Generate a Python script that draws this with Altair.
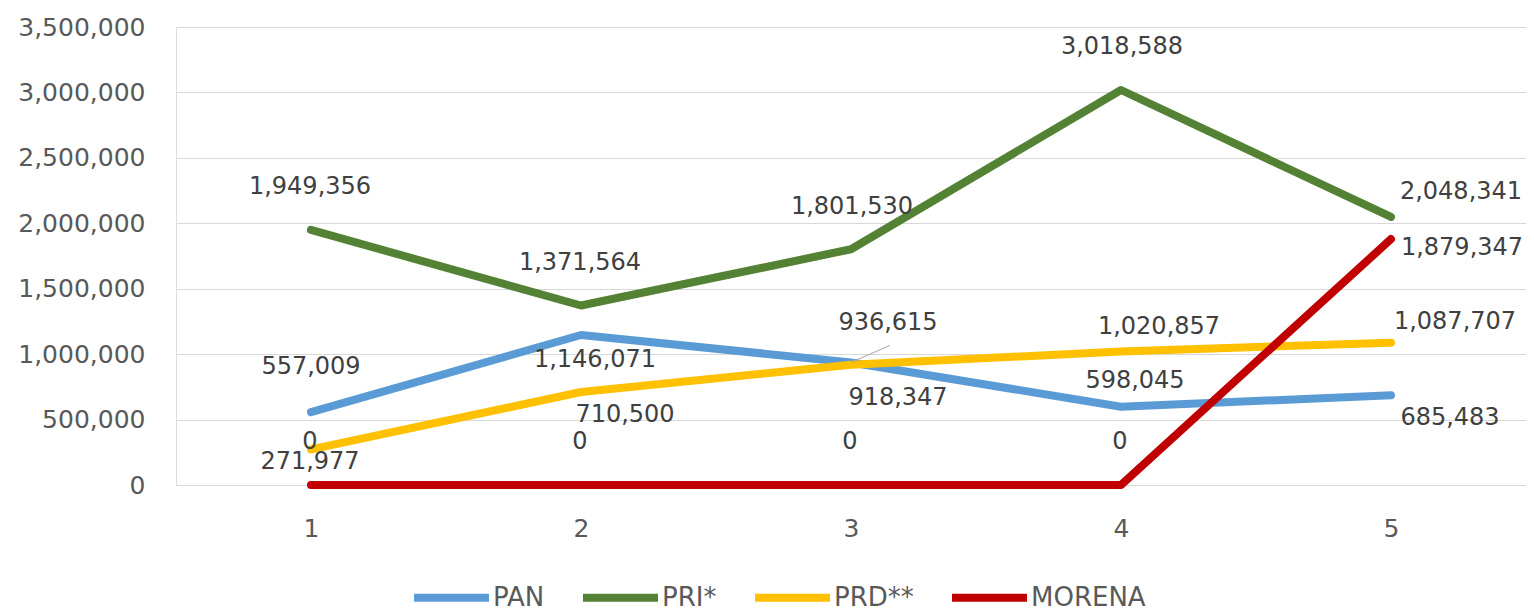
import altair as alt
import pandas as pd

# ---- data ----
categories = [1, 2, 3, 4, 5]
parties = ["PAN", "PRI*", "PRD**", "MORENA"]
pan = [557009, 1146071, 936615, 598045, 685483]
pri = [1949356, 1371564, 1801530, 3018588, 2048341]
prd = [271977, 710500, 918347, 1020857, 1087707]
morena = [0, 0, 0, 0, 1879347]
y_ticks = [0, 500000, 1000000, 1500000, 2000000, 2500000, 3000000, 3500000]

# ---- styling (label placement in pixels relative to each point) ----
colors = ["#5B9BD5", "#548235", "#FFC000", "#C00000"]
label_dx = {
    "PAN": [0, 14, 37, 14, 59],
    "PRI*": [-1, -1, 1, 1, 70],
    "PRD**": [-1, 44, 47, 38, 64],
    "MORENA": [-1, -1, -1, -1, 71],
}
label_dy = {
    "PAN": [-45, 25, -39, -26, 23],
    "PRI*": [-43, -43, -42, -43, -25],
    "PRD**": [13, 23, 33, -24, -21],
    "MORENA": [-43, -43, -43, -43, 9],
}

series = {"PAN": pan, "PRI*": pri, "PRD**": prd, "MORENA": morena}
rows = []
for p in parties:
    for i, c in enumerate(categories):
        rows.append({"x": c, "party": p, "value": series[p][i],
                     "ldx": label_dx[p][i], "ldy": label_dy[p][i]})
df = pd.DataFrame(rows)

FONT = "DejaVu Sans"
xscale = alt.Scale(type="point", padding=0.5, domain=categories)
yscale = alt.Scale(domain=[0, 3500000], nice=False, zero=True)

x_enc = alt.X("x:O", scale=xscale,
              axis=alt.Axis(title=None, labelAngle=0, grid=False, domain=False,
                            ticks=False, labelFontSize=25, labelFont=FONT,
                            labelColor="#595959", labelPadding=31))
y_enc = alt.Y("value:Q", scale=yscale,
              axis=alt.Axis(title=None, values=y_ticks, format=",d", domain=False,
                            ticks=False, grid=True, gridColor="#D9D9D9", gridWidth=1,
                            labelFontSize=25, labelFont=FONT, labelColor="#595959",
                            labelPadding=31))
color_enc = alt.Color("party:N", scale=alt.Scale(domain=parties, range=colors),
                      legend=alt.Legend(orient="none", legendX=234, legendY=529,
                                        direction="horizontal", columns=4, title=None,
                                        symbolType="stroke", symbolSize=5625,
                                        symbolStrokeWidth=8, labelFontSize=26,
                                        labelFont=FONT, labelColor="#595959",
                                        labelOffset=0, columnPadding=22, padding=0))

layers = []
for p in parties:
    layers.append(
        alt.Chart(df).transform_filter(alt.datum.party == p)
        .mark_line(strokeWidth=8, strokeCap="round", strokeJoin="round")
        .encode(x=x_enc, y=y_enc, color=color_enc)
    )

leader = (
    alt.Chart(df)
    .transform_filter((alt.datum.party == "PAN") & (alt.datum.x == 3))
    .mark_rule(color="#A6A6A6", strokeWidth=1, x2Offset=39, y2Offset=-17)
    .encode(x=x_enc, y=y_enc, x2=alt.X2("x:O"), y2=alt.Y2("value:Q"))
)

labels = (
    alt.Chart(df)
    .mark_text(fontSize=24, font=FONT, color="#404040", align="center", baseline="middle",
               dx=alt.ExprRef("datum.ldx"), dy=alt.ExprRef("datum.ldy"))
    .encode(x=x_enc, y=y_enc, text=alt.Text("value:Q", format=",d"))
)

chart = (
    alt.layer(*layers, leader, labels)
    .properties(width=1350, height=458,
                autosize=alt.AutoSizeParams(type="none"),
                padding={"left": 168, "top": 19, "right": 0, "bottom": 135})
    .configure_view(stroke=None)
    .configure(background="white")
)

chart.save("out.html", embed_options={"renderer": "svg", "actions": False})
